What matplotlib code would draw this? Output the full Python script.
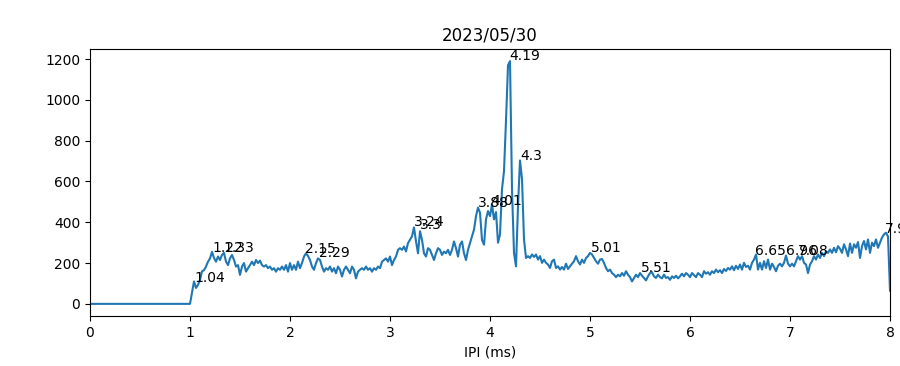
import numpy as np
import matplotlib
matplotlib.use('Agg')
import matplotlib.pyplot as plt

# IPI histogram, bins of 0.02 ms starting at 1.00 ms (flat zero before that)
bin_start = 1.0
bin_width = 0.02
counts = [
    0, 55, 110, 78, 93, 118, 160, 165, 183, 207,          # 1.00-1.18
    223, 255, 225, 207, 232, 215, 240, 250, 207, 190,     # 1.20-1.38
    223, 240, 215, 183, 190, 142, 183, 200, 158, 175,     # 1.40-1.58
    190, 207, 190, 215, 200, 212, 190, 183, 190, 175,     # 1.60-1.78
    183, 167, 175, 158, 175, 167, 183, 167, 190, 158,     # 1.80-1.98
    200, 167, 190, 167, 207, 175, 200, 232, 248, 235,     # 2.00-2.18
    215, 183, 167, 200, 223, 215, 183, 158, 175, 167,     # 2.20-2.38
    183, 158, 175, 150, 183, 167, 134, 167, 183, 167,     # 2.40-2.58
    150, 183, 167, 125, 158, 167, 175, 167, 183, 167,     # 2.60-2.78
    175, 158, 175, 167, 183, 175, 207, 215, 223, 207,     # 2.80-2.98
    232, 190, 215, 232, 265, 273, 265, 281, 257, 298,     # 3.00-3.18
    314, 331, 375, 306, 248, 356, 314, 248, 232, 273,     # 3.20-3.38
    265, 240, 215, 248, 273, 265, 240, 256, 248, 265,     # 3.40-3.58
    240, 265, 306, 273, 232, 290, 306, 248, 215, 265,     # 3.60-3.78
    298, 331, 364, 430, 472, 447, 314, 290, 414, 455,     # 3.80-3.98
    430, 488, 414, 450, 300, 340, 563, 650, 900, 1170,    # 4.00-4.18
    1190, 560, 250, 184, 481, 703, 612, 316, 225, 234,    # 4.20-4.38
    225, 242, 230, 242, 217, 234, 201, 217, 201, 193,     # 4.40-4.58
    176, 209, 217, 176, 184, 168, 181, 168, 197, 171,     # 4.60-4.78
    184, 197, 209, 234, 209, 193, 217, 201, 225, 234,     # 4.80-4.98
    250, 242, 225, 209, 197, 217, 220, 201, 176, 160,     # 5.00-5.18
    168, 151, 143, 131, 143, 135, 151, 138, 160, 143,     # 5.20-5.38
    131, 110, 127, 143, 131, 151, 138, 127, 115, 135,     # 5.40-5.58
    151, 155, 135, 127, 143, 131, 125, 143, 127, 131,     # 5.60-5.78
    118, 135, 127, 138, 125, 135, 148, 135, 151, 143,     # 5.80-5.98
    131, 151, 141, 131, 151, 143, 131, 160, 148, 155,     # 6.00-6.18
    143, 160, 151, 168, 155, 165, 151, 171, 161, 176,     # 6.20-6.38
    168, 184, 165, 187, 171, 193, 168, 201, 181, 187,     # 6.40-6.58
    168, 201, 217, 242, 168, 201, 168, 209, 176, 217,     # 6.60-6.78
    168, 197, 181, 160, 187, 197, 184, 201, 237, 197,     # 6.80-6.98
    184, 197, 184, 209, 234, 217, 234, 201, 193, 151,     # 7.00-7.18
    193, 209, 234, 217, 242, 225, 250, 234, 258, 250,     # 7.20-7.38
    267, 250, 275, 253, 283, 270, 250, 292, 267, 234,     # 7.40-7.58
    296, 250, 292, 275, 303, 225, 283, 308, 267, 316,     # 7.60-7.78
    250, 300, 283, 316, 275, 300, 325, 341, 349, 330,     # 7.80-7.98
    65,                                                   # 8.00
]

# detected peaks (position in ms, height)
peak_ipi = [1.04, 1.22, 1.33, 2.15, 2.29, 3.24, 3.3, 3.88, 4.01, 4.19,
            4.3, 5.01, 5.51, 6.65, 6.96, 7.08, 7.95]
peak_counts = [107, 256, 256, 247, 229, 380, 365, 474, 485, 1195,
               703, 253, 155, 242, 242, 242, 346]

ipi = bin_start + bin_width * np.arange(len(counts))
ipi = np.concatenate([[0.0], ipi])
counts = np.concatenate([[0], counts])

fig = plt.figure(figsize=(9, 3.66), dpi=100)
ax = fig.add_axes([0.1, 0.1366, 0.8889, 0.7295])
ax.plot(ipi, counts)

# label each peak with its IPI value
for x, y in zip(peak_ipi, peak_counts):
    ax.text(x, y, str(x))

ax.set_xlim(0, 8)
ax.set_xlabel('IPI (ms)')
ax.set_title('2023/05/30')

fig.savefig('out.png')
